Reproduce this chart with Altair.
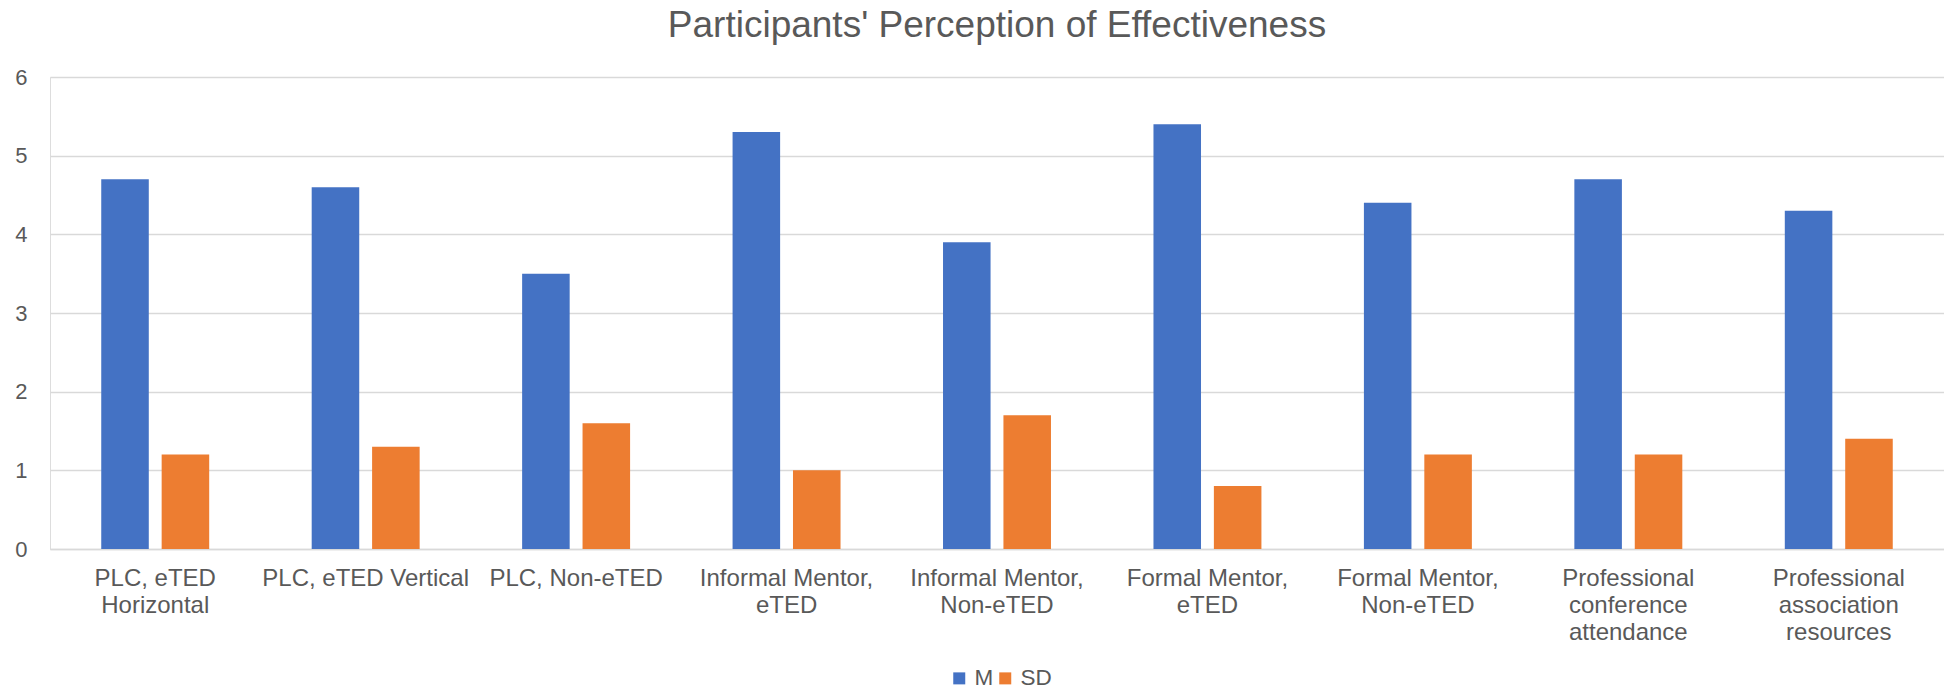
import altair as alt
import pandas as pd

categories = [
    "PLC, eTED Horizontal",
    "PLC, eTED Vertical",
    "PLC, Non-eTED",
    "Informal Mentor, eTED",
    "Informal Mentor, Non-eTED",
    "Formal Mentor, eTED",
    "Formal Mentor, Non-eTED",
    "Professional conference attendance",
    "Professional association resources",
]
label_lines = [
    ["PLC, eTED", "Horizontal"],
    ["PLC, eTED Vertical"],
    ["PLC, Non-eTED"],
    ["Informal Mentor,", "eTED"],
    ["Informal Mentor,", "Non-eTED"],
    ["Formal Mentor,", "eTED"],
    ["Formal Mentor,", "Non-eTED"],
    ["Professional", "conference", "attendance"],
    ["Professional", "association", "resources"],
]
m_values = [4.7, 4.6, 3.5, 5.3, 3.9, 5.4, 4.4, 4.7, 4.3]
sd_values = [1.2, 1.3, 1.6, 1.0, 1.7, 0.8, 1.2, 1.2, 1.4]
series = ["M", "SD"]
colors = ["#4472C4", "#ED7D31"]

rows = []
for c, m, s in zip(categories, m_values, sd_values):
    rows.append({"Category": c, "Series": "M", "Value": m})
    rows.append({"Category": c, "Series": "SD", "Value": s})
df = pd.DataFrame(rows)

parts = []
for c, lines in zip(categories, label_lines):
    arr = "[" + ",".join("'" + l + "'" for l in lines) + "]"
    parts.append(f"datum.label == '{c}' ? {arr}")
label_expr = " : ".join(parts) + " : datum.label"

font = "Liberation Sans"
grey = "#595959"
grid = "#D9D9D9"

chart = (
    alt.Chart(df)
    .mark_bar()
    .encode(
        x=alt.X(
            "Category:N",
            sort=categories,
            title=None,
            scale=alt.Scale(paddingInner=0.487, paddingOuter=0.2435),
            axis=alt.Axis(
                labelAngle=0,
                labelExpr=label_expr,
                labelFont=font,
                labelFontSize=24,
                labelColor=grey,
                labelLineHeight=27,
                labelPadding=17,
                labelBaseline="top",
                ticks=False,
                domainColor=grid,
                domainWidth=1.5,
                labelLimit=400,
            ),
        ),
        xOffset=alt.XOffset(
            "Series:N",
            sort=series,
            scale=alt.Scale(paddingInner=0.213, paddingOuter=0),
        ),
        y=alt.Y(
            "Value:Q",
            title=None,
            scale=alt.Scale(domain=[0, 6]),
            axis=alt.Axis(
                values=[0, 1, 2, 3, 4, 5, 6],
                labelFont=font,
                labelFontSize=22,
                labelColor=grey,
                labelPadding=23,
                ticks=False,
                domain=False,
                gridColor=grid,
                gridWidth=1.5,
            ),
        ),
        color=alt.Color(
            "Series:N",
            sort=series,
            scale=alt.Scale(domain=series, range=colors),
            legend=alt.Legend(
                title=None,
                orient="none",
                direction="horizontal",
                legendX=898,
                legendY=590,
                symbolType="square",
                symbolSize=144,
                symbolStrokeWidth=0,
                labelFont=font,
                labelFontSize=22.5,
                labelColor=grey,
                labelOffset=4,
                columnPadding=0,
            ),
        ),
    )
    .properties(
        width=1894,
        height=472,
        autosize=alt.AutoSizeParams(type="none"),
        padding={"left": 42, "top": 69, "right": 0, "bottom": 141},
        title=alt.TitleParams(
            "Participants' Perception of Effectiveness",
            font=font,
            fontSize=37,
            fontWeight="normal",
            color=grey,
            baseline="alphabetic",
            offset=5,
            dy=13,
            anchor="middle",
        ),
    )
    .configure_view(stroke=None)
    .configure(background="white")
)

chart.save("out.html", embed_options={"renderer": "svg", "actions": False})
